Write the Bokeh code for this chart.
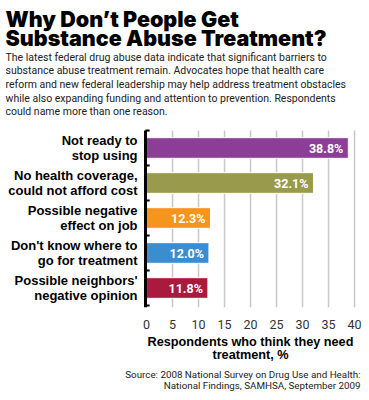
from bokeh.plotting import figure
from bokeh.models import Range1d, FixedTicker, LinearAxis, ColumnDataSource
from bokeh.core.properties import value
from bokeh.embed import file_html
from bokeh.resources import INLINE

categories = [
    "Not ready to\nstop using",
    "No health coverage,\ncould not afford cost",
    "Possible negative\neffect on job",
    "Don't know where to\ngo for treatment",
    "Possible neighbors'\nnegative opinion",
]
values = [38.8, 32.1, 12.3, 12.0, 11.8]
value_labels = ["38.8%", "32.1%", "12.3%", "12.0%", "11.8%"]
colors = ["#8C3D97", "#999A4B", "#F7941D", "#3C8DD0", "#AA1A3C"]
x_ticks = [0, 5, 10, 15, 20, 25, 30, 35, 40]

title_lines = ["Why Don’t People Get", "Substance Abuse Treatment?"]
intro_lines = [
    "The latest federal drug abuse data indicate that significant barriers to",
    "substance abuse treatment remain. Advocates hope that health care",
    "reform and new federal leadership may help address treatment obstacles",
    "while also expanding funding and attention to prevention. Respondents",
    "could name more than one reason.",
]
axis_title_lines = ["Respondents who think they need", "treatment, %"]
source_lines = [
    "Source: 2008 National Survey on Drug Use and Health:",
    "National Findings, SAMHSA, September 2009",
]

COND = "Roboto"
SANS = "Liberation Sans"
TITLE_FONT = "Inter Black, Lato Black"

# pixel layout of the canvas
W, H = 369, 400
PX_PER_X = 5.2          # pixels per percentage point
PX_PER_CAT = 35.0       # pixels per category row
AXIS_X_PX = 145         # canvas x of x = -0.2
TOP_PX = 130            # canvas y of the first row's top edge

n = len(categories)
x_start = -0.2 - AXIS_X_PX / PX_PER_X
x_end = x_start + W / PX_PER_X
y_top = -0.5 - TOP_PX / PX_PER_CAT
y_bot = y_top + H / PX_PER_CAT

ys = list(range(n))
src = ColumnDataSource(dict(y=ys, v=values, lab=value_labels, cat=categories,
                            c=colors, zero=[0] * n))

p = figure(frame_width=W, frame_height=H,
           min_border_left=0, min_border_right=0,
           min_border_top=0, min_border_bottom=0,
           x_range=Range1d(x_start, x_end), y_range=Range1d(y_bot, y_top),
           x_axis_location=None, y_axis_location=None,
           output_backend="svg", toolbar_location=None)
p.outline_line_color = None
p.xgrid.visible = False
p.ygrid.visible = False

# vertical grid lines, only over the bar area
grid_x = x_ticks[1:]
p.segment(x0=grid_x, y0=[-0.5] * len(grid_x), x1=grid_x, y1=[n - 0.45] * len(grid_x),
          line_color="#c8c8c8", line_width=1.5)

ax = LinearAxis(fixed_location=n - 0.5, ticker=FixedTicker(ticks=x_ticks))
ax.axis_line_color = None
ax.major_tick_line_color = None
ax.minor_tick_line_color = None
ax.major_label_text_font = COND
ax.major_label_text_font_size = "12.5px"
ax.major_label_text_color = "#333333"
ax.major_label_standoff = 8
p.add_layout(ax, "below")

p.hbar(y="y", left=0, right="v", height=0.59, fill_color="c",
       line_color="white", line_width=1, source=src)

# bracket-like left axis
p.segment(x0=[-0.2], y0=[-0.5], x1=[-0.2], y1=[n - 0.45],
          line_color="black", line_width=3)
bounds = [i - 0.5 for i in range(n + 1)]
p.segment(x0=[-0.2] * len(bounds), y0=bounds, x1=[0.6] * len(bounds), y1=bounds,
          line_color="black", line_width=2)

p.text(x="v", y="y", text="lab", source=src, x_offset=-5,
       text_align="right", text_baseline="middle",
       text_color="white", text_font=value(COND),
       text_font_style="bold", text_font_size="12.5px")
p.text(x="zero", y="y", text="cat", source=src, x_offset=-9,
       text_align="right", text_baseline="middle",
       text_color="black", text_font=value(SANS),
       text_font_style="bold", text_font_size="13px",
       text_line_height=1.0)

# free texts, anchored at the first row's top-left corner (x=0, y=-0.5)
AX0 = AXIS_X_PX + 0.2 * PX_PER_X
def add_text(fx, fy, t, font, size, style="normal", align="left", color="black"):
    p.text(x=[0], y=[-0.5], text=[t], x_offset=fx - AX0, y_offset=fy - TOP_PX,
           text_font=value(font), text_font_size=size, text_font_style=style,
           text_align=align, text_baseline="alphabetic", text_color=color)

for i, t in enumerate(title_lines):
    add_text(5, 18.5 + 18.5 * i, t, TITLE_FONT, "21.5px")
for i, t in enumerate(intro_lines):
    add_text(5, 56.5 + 13.7 * i, t, COND, "10.5px", color="#222222")
for i, t in enumerate(axis_title_lines):
    add_text(250, 341.5 + 13 * i, t, SANS, "12.7px", style="bold", align="center")
for i, t in enumerate(source_lines):
    add_text(360, 374 + 10.5 * i, t, COND, "9.8px", align="right", color="#222222")

open("out.html", "w").write(file_html(p, INLINE))
